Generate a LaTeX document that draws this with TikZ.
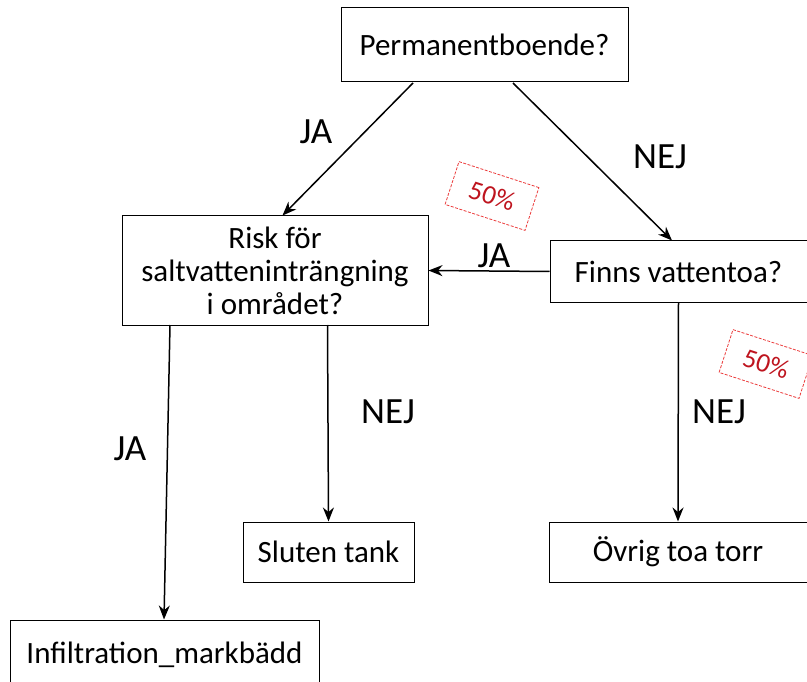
\documentclass[tikz,border=0pt]{standalone}
\usepackage{fontspec}
\setmainfont{Carlito}
\usetikzlibrary{arrows.meta}
\definecolor{stampred}{RGB}{235,60,60}
\definecolor{stamptext}{RGB}{190,20,30}
\tikzset{
  box/.style={draw=black, line width=1pt, fill=white, align=center, inner sep=0pt,
    font=\fontsize{31}{33}\selectfont},
  arr/.style={-{Stealth[length=14pt,width=11pt]}, line width=1.5pt},
  lbl/.style={font=\fontsize{37}{40}\selectfont},
  stamp/.style={draw=stampred, dashed, dash pattern=on 3pt off 1.5pt, line width=0.8pt,
    text=stamptext, minimum width=84pt, minimum height=45pt, inner sep=0pt,
    font=\fontsize{27}{30}\selectfont}
}
\begin{document}
\begin{tikzpicture}[x=1pt,y=-1pt]
\useasboundingbox (0,0) rectangle (807,682);
\node[box, minimum width=287pt, minimum height=74pt] (perm) at (484.5,45) {Permanentboende?};
\node[box, minimum width=306pt, minimum height=109pt] (risk) at (275,270.5) {Risk för\\saltvatteninträngning\\i området?};
\node[box, minimum width=257pt, minimum height=61pt] (finns) at (678.5,271.5) {Finns vattentoa?};
\node[box, minimum width=171pt, minimum height=60pt] (sluten) at (328.5,552) {Sluten tank};
\node[box, minimum width=258pt, minimum height=60pt] (ovrig) at (678,552) {Övrig toa torr};
\node[box, minimum width=309pt, minimum height=70pt] (infil) at (164.5,655) {Infiltration\_markbädd};

\coordinate (p1) at (413,83);
\coordinate (p2) at (513,83);
\coordinate (r1) at (170,325);
\coordinate (r2) at (327.5,325);
\draw[arr] (p1) -- (282.5,215.5);
\draw[arr] (p2) -- (672,240.5);
\draw[arr] (finns.west) -- (risk.east);
\draw[arr] (r1) -- (164,619.5);
\draw[arr] (r2) -- (sluten.north);
\draw[arr] (finns.south) -- (ovrig.north);

\node[lbl] (l1) at (316,132) {JA};
\node[lbl] (l2) at (660,157) {NEJ};
\node[lbl] (l3) at (494,256) {JA};
\node[lbl] (l4) at (130,449) {JA};
\node[lbl] (l5) at (388,412) {NEJ};
\node[lbl] (l6) at (719,412) {NEJ};

\node[stamp, rotate=-18] (s1) at (492,196) {50\%};
\node[stamp, rotate=-18] (s2) at (766,364) {50\%};
\end{tikzpicture}
\end{document}
